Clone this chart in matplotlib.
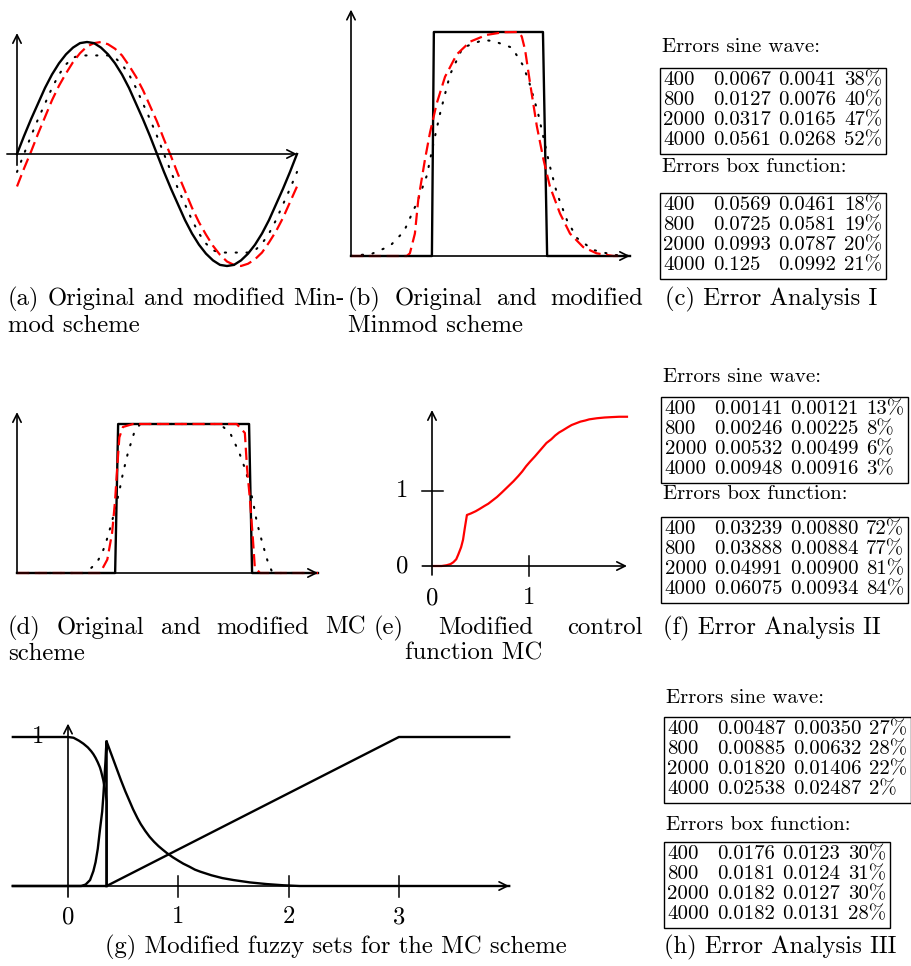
import matplotlib
matplotlib.use("Agg")
import matplotlib.pyplot as plt
from matplotlib.patches import Rectangle

plt.rcParams['font.family'] = 'cmr10'
plt.rcParams['axes.unicode_minus'] = False

W, H = 911, 966
FONT = 'cmr10'
CAP_SIZE = 17.8
TAB_SIZE = 15.0

# --- (a) sine wave: original, modified (red dashed), minmod (dotted) ---
a_x = [i / 40 for i in range(41)]
a_orig = [0.0, 0.16, 0.31, 0.45, 0.59, 0.71, 0.81, 0.89, 0.95, 0.99, 1.0,
          0.99, 0.95, 0.89, 0.81, 0.71, 0.59, 0.45, 0.31, 0.16, 0.0,
          -0.16, -0.31, -0.45, -0.59, -0.71, -0.81, -0.89, -0.95, -0.99, -1.0,
          -0.99, -0.95, -0.89, -0.81, -0.71, -0.59, -0.45, -0.31, -0.16, 0.0]
a_mod = [-0.29, -0.13, 0.02, 0.18, 0.33, 0.48, 0.61, 0.72, 0.82, 0.90, 0.96,
         0.99, 1.0, 0.98, 0.94, 0.88, 0.79, 0.69, 0.57, 0.43, 0.29,
         0.13, -0.02, -0.18, -0.33, -0.48, -0.61, -0.72, -0.82, -0.90, -0.96,
         -0.99, -1.0, -0.98, -0.94, -0.88, -0.79, -0.69, -0.57, -0.43, -0.29]
a_minmod = [-0.16, 0.0, 0.16, 0.31, 0.45, 0.59, 0.71, 0.80, 0.86, 0.88, 0.88,
            0.88, 0.88, 0.88, 0.86, 0.80, 0.71, 0.59, 0.45, 0.31, 0.16,
            0.0, -0.16, -0.31, -0.45, -0.59, -0.71, -0.80, -0.86, -0.88, -0.88,
            -0.88, -0.88, -0.88, -0.86, -0.80, -0.71, -0.59, -0.45, -0.31, -0.16]

# --- (b) box function, Minmod ---
b_box_x = [0.0, 0.29, 0.297, 0.688, 0.703, 1.0]
b_box_y = [0, 0, 1, 1, 0, 0]
b_red_x = [0.0, 0.2, 0.211, 0.229, 0.241, 0.265, 0.283, 0.307, 0.337, 0.379,
           0.427, 0.486, 0.546, 0.6, 0.612, 0.624, 0.642, 0.666, 0.69, 0.713,
           0.749, 0.785, 0.832, 0.88, 0.94, 0.965]
b_red_y = [0, 0, 0.012, 0.10, 0.25, 0.43, 0.55, 0.68, 0.80, 0.90,
           0.957, 0.987, 0.999, 1.0, 0.98, 0.92, 0.77, 0.58, 0.43, 0.31,
           0.19, 0.10, 0.04, 0.012, 0.0, 0.0]
b_dot_x = [0.0, 0.075, 0.14, 0.19, 0.237, 0.272, 0.295, 0.32, 0.355, 0.40,
           0.473, 0.51, 0.577, 0.617, 0.64, 0.67, 0.695, 0.713, 0.738, 0.774,
           0.81, 0.868, 0.94, 1.0]
b_dot_y = [0.0, 0.01, 0.045, 0.11, 0.24, 0.36, 0.50, 0.64, 0.81, 0.93,
           0.964, 0.96, 0.93, 0.85, 0.77, 0.64, 0.50, 0.40, 0.28, 0.16,
           0.08, 0.027, 0.005, 0.0]

# --- (d) box function, MC ---
d_box_x = [0.0, 0.326, 0.336, 0.771, 0.781, 1.0]
d_box_y = [0, 0, 1, 1, 0, 0]
d_red_x = [0.0, 0.276, 0.30, 0.316, 0.326, 0.333, 0.34, 0.352, 0.385, 0.73,
           0.757, 0.764, 0.774, 0.784, 0.79, 0.807, 1.0]
d_red_y = [0, 0, 0.09, 0.27, 0.49, 0.71, 0.91, 0.98, 1.0, 1.0,
           0.94, 0.71, 0.49, 0.22, 0.04, 0, 0]
d_dot_x = [0.0, 0.22, 0.243, 0.265, 0.282, 0.295, 0.315, 0.339, 0.352, 0.369,
           0.389, 0.409, 0.674, 0.708, 0.724, 0.738, 0.761, 0.784, 0.797, 0.814,
           0.834, 0.847, 0.864, 1.0]
d_dot_y = [0.0, 0.0, 0.027, 0.07, 0.13, 0.20, 0.34, 0.54, 0.67, 0.81,
           0.94, 1.0, 1.0, 0.94, 0.87, 0.81, 0.68, 0.48, 0.34, 0.21,
           0.07, 0.01, 0.0, 0.0]

# --- (e) modified control function MC ---
e_x = [0.0, 0.1, 0.15, 0.19, 0.22, 0.25, 0.27, 0.30, 0.32, 0.34, 0.36, 0.40,
       0.45, 0.49, 0.54, 0.58, 0.63, 0.67, 0.72, 0.76, 0.80, 0.84, 0.89, 0.93,
       0.97, 1.01, 1.06, 1.10, 1.14, 1.18, 1.23, 1.27, 1.31, 1.35, 1.40, 1.44,
       1.49, 1.53, 1.58, 1.62, 1.70, 1.78, 1.85, 1.93, 2.01]
e_y = [0.0, 0.0, 0.01, 0.025, 0.05, 0.09, 0.15, 0.25, 0.35, 0.52, 0.68, 0.70,
       0.73, 0.76, 0.80, 0.83, 0.88, 0.92, 0.98, 1.03, 1.08, 1.13, 1.20, 1.26,
       1.33, 1.39, 1.46, 1.52, 1.58, 1.64, 1.69, 1.74, 1.78, 1.81, 1.85, 1.88,
       1.905, 1.925, 1.94, 1.955, 1.97, 1.98, 1.985, 1.99, 1.99]

# --- (g) fuzzy sets ---
g_small_x = [-0.5, 0.0, 0.05, 0.1, 0.14, 0.18, 0.21, 0.23, 0.25, 0.27, 0.29,
             0.30, 0.31, 0.32, 0.33, 0.34, 0.35, 0.35]
g_small_y = [1.0, 1.0, 0.995, 0.975, 0.955, 0.93, 0.905, 0.885, 0.86, 0.83, 0.795,
             0.77, 0.74, 0.71, 0.67, 0.63, 0.57, 0.0]
g_rise_x = [-0.5, 0.12, 0.16, 0.2, 0.23, 0.25, 0.27, 0.29, 0.31, 0.32, 0.33,
            0.34, 0.345, 0.35, 0.35]
g_rise_y = [0.0, 0.0, 0.01, 0.04, 0.10, 0.16, 0.25, 0.38, 0.50, 0.60, 0.72,
            0.84, 0.92, 0.97, 0.0]
g_decay_x = [0.35, 0.38, 0.41, 0.44, 0.48, 0.52, 0.555, 0.59, 0.63, 0.66, 0.70,
             0.74, 0.78, 0.82, 0.86, 0.895, 0.95, 1.0, 1.045, 1.1, 1.15, 1.2,
             1.3, 1.4, 1.5, 1.65, 1.8, 1.95, 2.1, 4.0]
g_decay_y = [0.97, 0.91, 0.85, 0.79, 0.71, 0.635, 0.575, 0.515, 0.455, 0.415, 0.37,
             0.33, 0.297, 0.268, 0.243, 0.222, 0.193, 0.17, 0.15, 0.13, 0.11, 0.096,
             0.072, 0.053, 0.04, 0.024, 0.013, 0.005, 0.0, 0.0]
g_large_x = [-0.5, 0.35, 3.0, 4.0]
g_large_y = [0.0, 0.0, 1.0, 1.0]
g_ticks = [1, 2, 3]
g_ticklabels = ["0", "1", "2", "3"]

# --- error tables ---
grid_n = ["400", "800", "2000", "4000"]
c_sine_old = ["0.0067", "0.0127", "0.0317", "0.0561"]
c_sine_new = ["0.0041", "0.0076", "0.0165", "0.0268"]
c_sine_pct = ["38%", "40%", "47%", "52%"]
c_box_old = ["0.0569", "0.0725", "0.0993", "0.125"]
c_box_new = ["0.0461", "0.0581", "0.0787", "0.0992"]
c_box_pct = ["18%", "19%", "20%", "21%"]
f_sine_old = ["0.00141", "0.00246", "0.00532", "0.00948"]
f_sine_new = ["0.00121", "0.00225", "0.00499", "0.00916"]
f_sine_pct = ["13%", "8%", "6%", "3%"]
f_box_old = ["0.03239", "0.03888", "0.04991", "0.06075"]
f_box_new = ["0.00880", "0.00884", "0.00900", "0.00934"]
f_box_pct = ["72%", "77%", "81%", "84%"]
h_sine_old = ["0.00487", "0.00885", "0.01820", "0.02538"]
h_sine_new = ["0.00350", "0.00632", "0.01406", "0.02487"]
h_sine_pct = ["27%", "28%", "22%", "2%"]
h_box_old = ["0.0176", "0.0181", "0.0182", "0.0182"]
h_box_new = ["0.0123", "0.0124", "0.0127", "0.0131"]
h_box_pct = ["30%", "31%", "30%", "28%"]

fig = plt.figure(figsize=(W / 100, H / 100), dpi=100)
renderer = fig.canvas.get_renderer()

RED = dict(color='red', lw=1.6, ls=(0, (5.5, 2.5)))
DOT = dict(color='black', lw=1.5, ls=(0, (0.6, 4.6)), dash_capstyle='round')
SOLID = dict(color='black', lw=1.7)


def panel(box, origin, unit):
    # box in pixels (l, t, r, b); origin = pixel of data (0, 0); unit = px per data unit
    l, t, r, b = box
    ax = fig.add_axes([l / W, 1 - b / H, (r - l) / W, (b - t) / H])
    ax.set_xlim((l - origin[0]) / unit[0], (r - origin[0]) / unit[0])
    ax.set_ylim((origin[1] - b) / unit[1], (origin[1] - t) / unit[1])
    ax.axis('off')
    return ax


def arrow(ax, p0, p1):
    ax.annotate('', xy=p1, xytext=p0, annotation_clip=False,
                arrowprops=dict(arrowstyle='->,head_length=0.6,head_width=0.3',
                                lw=1.2, color='black', shrinkA=0, shrinkB=0,
                                mutation_scale=10))


def ftext(x, y, s, size=CAP_SIZE, ha='left', va='baseline'):
    return fig.text(x / W, 1 - y / H, s, fontsize=size, family=FONT, ha=ha, va=va)


def justified(words, x0, x1, y, size=CAP_SIZE):
    texts = [ftext(0, y, w, size) for w in words]
    widths = [t.get_window_extent(renderer).width for t in texts]
    gap = (x1 - x0 - sum(widths)) / (len(words) - 1)
    x = x0
    for t, w in zip(texts, widths):
        t.set_position((x / W, 1 - y / H))
        x += w + gap


def table(label, label_y, cols, x0, top):
    ftext(x0 + 2, label_y, label, TAB_SIZE)
    pad, gap, step = 3.5, 7.5, 20.0
    x = x0 + pad
    for col in cols:
        ts = [ftext(x, top + 17 + i * step, s, TAB_SIZE) for i, s in enumerate(col)]
        x += max(t.get_window_extent(renderer).width for t in ts) + gap
    right = x - gap + pad
    fig.add_artist(Rectangle((x0 / W, 1 - (top + 86) / H), (right - x0) / W, 86 / H,
                             transform=fig.transFigure, fill=False, lw=1.0,
                             edgecolor='black'))


# (a)
ax = panel((0, 20, 330, 280), (17, 154), (280, 112))
arrow(ax, (0, -0.1), (0, 1.08))
arrow(ax, (-0.036, 0), (1.0, 0))
ax.plot(a_x, a_minmod, **DOT, clip_on=False)
ax.plot(a_x, a_mod, **RED, clip_on=False)
ax.plot(a_x, a_orig, **SOLID, clip_on=False)

# (b)
ax = panel((335, 0, 650, 270), (351, 256), (279, 224))
arrow(ax, (0, 0), (0, 1.1))
arrow(ax, (0, 0), (1.0, 0))
ax.plot(b_box_x, b_box_y, **SOLID, clip_on=False)
ax.plot(b_dot_x, b_dot_y, **DOT, clip_on=False)
ax.plot(b_red_x, b_red_y, **RED, clip_on=False)

# (d)
ax = panel((0, 400, 340, 590), (17, 573), (301, 149))
arrow(ax, (0, 0), (0, 1.08))
arrow(ax, (0, 0), (1.0, 0))
ax.plot(d_dot_x, d_dot_y, **DOT, clip_on=False)
ax.plot(d_box_x, d_box_y, **SOLID, clip_on=False)
ax.plot(d_red_x, d_red_y, **RED, clip_on=False)

# (e)
ax = panel((380, 400, 650, 610), (432, 566), (97, 75))
arrow(ax, (0, -0.12), (0, 2.08))
arrow(ax, (-0.1, 0), (2.01, 0))
ax.plot([1, 1], [-0.13, 0.13], color='black', lw=1.1)
ax.plot([-0.1, 0.11], [1, 1], color='black', lw=1.1)
ax.plot(e_x, e_y, color='red', lw=1.6, clip_on=False)
for v in [0, 1]:
    ax.text(v, -0.43, str(v), fontsize=CAP_SIZE, family=FONT, ha='center', va='center')
    ax.text(-0.31, v, str(v), fontsize=CAP_SIZE, family=FONT, ha='center', va='center')

# (g)
ax = panel((0, 700, 530, 930), (68, 886), (110.3, 149))
arrow(ax, (0, -0.074), (0, 1.09))
arrow(ax, (-0.5, 0), (4.0, 0))
for v in g_ticks:
    ax.plot([v, v], [-0.074, 0.067], color='black', lw=1.1)
for i, s in enumerate(g_ticklabels):
    ax.text(i, -0.21, s, fontsize=CAP_SIZE, family=FONT, ha='center', va='center')
ax.text(-0.27, 1.0, "1", fontsize=CAP_SIZE, family=FONT, ha='center', va='center')
ax.plot(g_large_x, g_large_y, **SOLID, clip_on=False)
ax.plot(g_small_x, g_small_y, **SOLID, clip_on=False)
ax.plot(g_rise_x, g_rise_y, **SOLID, clip_on=False)
ax.plot(g_decay_x, g_decay_y, **SOLID, clip_on=False)

# tables
table("Errors sine wave:", 52, [grid_n, c_sine_old, c_sine_new, c_sine_pct], 660, 68)
table("Errors box function:", 172, [grid_n, c_box_old, c_box_new, c_box_pct], 660, 193)
table("Errors sine wave:", 382, [grid_n, f_sine_old, f_sine_new, f_sine_pct], 661, 397)
table("Errors box function:", 499, [grid_n, f_box_old, f_box_new, f_box_pct], 661, 517)
table("Errors sine wave:", 703, [grid_n, h_sine_old, h_sine_new, h_sine_pct], 664, 717)
table("Errors box function:", 830, [grid_n, h_box_old, h_box_new, h_box_pct], 664, 842)

# captions
justified(["(a)", "Original", "and", "modified", "Min-"], 8, 345, 305)
ftext(8, 332, "mod scheme")
justified(["(b)", "Original", "and", "modified"], 348, 643, 305)
ftext(348, 332, "Minmod scheme")
ftext(771, 305, "(c) Error Analysis I", ha='center')
justified(["(d)", "Original", "and", "modified", "MC"], 8, 366, 634)
ftext(8, 660, "scheme")
justified(["(e)", "Modified", "control"], 374, 643, 634)
ftext(405, 660, "function MC")
ftext(772, 634, "(f) Error Analysis II", ha='center')
ftext(336, 953, "(g) Modified fuzzy sets for the MC scheme", ha='center')
ftext(780, 953, "(h) Error Analysis III", ha='center')

fig.savefig("out.png", dpi=100)
